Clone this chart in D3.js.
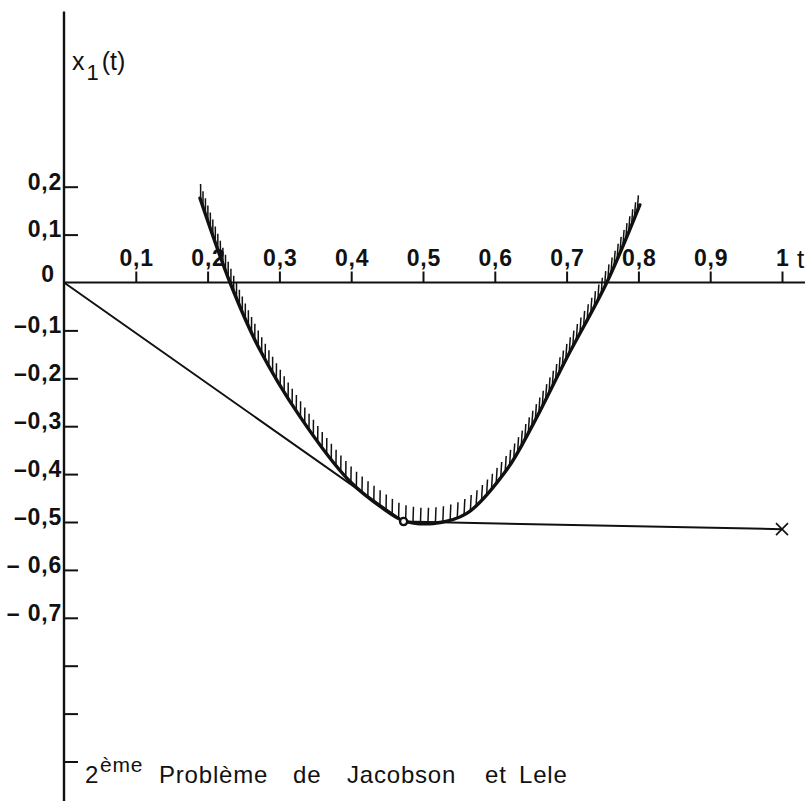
<!DOCTYPE html>
<html><head><meta charset="utf-8">
<script src="https://cdn.jsdelivr.net/npm/d3@7/dist/d3.min.js"></script>
<style>body{margin:0;background:#fff} svg{display:block}</style>
</head><body>
<script>
// ---- data ----
const xTickValues = [0.1, 0.2, 0.3, 0.4, 0.5, 0.6, 0.7, 0.8, 0.9, 1];
const xTickLabels = ["0,1", "0,2", "0,3", "0,4", "0,5", "0,6", "0,7", "0,8", "0,9", "1"];
const yTickValues = [0.2, 0.1, -0.1, -0.2, -0.3, -0.4, -0.5, -0.6, -0.7, -0.8, -0.9, -1.0];
const yTickLabels = ["0,2", "0,1", "\u20130,1", "\u20130,2", "\u20130,3", "\u20130,4", "\u20130,5", "\u2013 0,6", "\u2013 0,7", "", "", ""];
const originLabel = "0";
const xAxisTitle = "t";
const yAxisTitleMain = "x";
const yAxisTitleSub = "1";
const yAxisTitleTail = "(t)";
const captionWords = ["2", "ème", "Problème", "de", "Jacobson", "et", "Lele"];

// trajectory x1(t): straight to tangency point, then nearly flat to t = 1
const trajectoryT = [0, 0.473, 1.0];
const trajectoryX = [0, -0.499, -0.515];

// hatched constraint boundary
const boundaryT = [0.1894, 0.2312, 0.2706, 0.3287, 0.398, 0.4447, 0.4726, 0.5143, 0.561, 0.6166, 0.654, 0.700, 0.756, 0.802];
const boundaryX = [0.176, 0.0, -0.134, -0.280, -0.415, -0.472, -0.497, -0.503, -0.482, -0.391, -0.294, -0.158, 0.0, 0.162];

// ---- drawing ----
const W = 805, H = 801;
const svg = d3.select("body").append("svg").attr("width", W).attr("height", H);

const x = d3.scaleLinear().domain([0, 1]).range([64, 782]);
const y = d3.scaleLinear().domain([0, -1]).range([282.5, 761.5]);
const ink = "#111";
const tickFont = "'Liberation Sans', Arial, Helvetica, sans-serif";

// axes lines
svg.append("line").attr("x1", x(0)).attr("x2", W).attr("y1", y(0)).attr("y2", y(0))
  .attr("stroke", ink).attr("stroke-width", 2);
svg.append("line").attr("x1", x(0)).attr("x2", x(0)).attr("y1", y(0.566)).attr("y2", H)
  .attr("stroke", ink).attr("stroke-width", 2.4);

// x axis ticks + labels
const gx = svg.append("g").attr("transform", `translate(0,${y(0)})`)
  .call(d3.axisTop(x).tickValues(xTickValues).tickFormat((d, i) => xTickLabels[i]).tickSize(11).tickPadding(6));
gx.select(".domain").remove();
gx.selectAll(".tick line").attr("stroke", ink).attr("stroke-width", 2);
gx.selectAll(".tick text").attr("fill", ink).attr("dx", "0.4px")
  .style("font-family", tickFont).style("font-weight", "bold").style("font-size", "23px").style("letter-spacing", "0.8px");

// y axis ticks + labels
const gy = svg.append("g").attr("transform", `translate(${x(0)},0)`)
  .call(d3.axisLeft(y).tickValues(yTickValues).tickFormat((d, i) => yTickLabels[i]).tickSize(-14).tickPadding(2));
gy.select(".domain").remove();
gy.selectAll(".tick line").attr("stroke", ink).attr("stroke-width", 2);
gy.selectAll(".tick text").attr("fill", ink).attr("dy", "0.1em")
  .style("font-family", tickFont).style("font-weight", "bold").style("font-size", "23px").style("letter-spacing", "0.8px");

// origin label
svg.append("text").attr("x", x(0) - 10).attr("y", y(0) - 1).attr("text-anchor", "end")
  .attr("fill", ink).style("font-family", tickFont).style("font-weight", "bold").style("font-size", "23px")
  .text(originLabel);

// axis titles
svg.append("text").attr("x", 797).attr("y", y(0) - 15).attr("fill", ink)
  .style("font-family", "'Liberation Sans', Arial, sans-serif").style("font-size", "26px").text(xAxisTitle);

const yt = svg.append("text").attr("x", 72).attr("y", 70).attr("fill", ink)
  .style("font-family", "'Liberation Sans', Arial, sans-serif").style("font-size", "25px");
yt.append("tspan").text(yAxisTitleMain);
yt.append("tspan").attr("dx", 2).attr("dy", 10).style("font-size", "22px").text(yAxisTitleSub);
yt.append("tspan").attr("dx", 3).attr("dy", -10).text(yAxisTitleTail);

// caption
const cap = svg.append("text").attr("y", 783).attr("fill", ink)
  .style("font-family", "'Liberation Sans', Arial, sans-serif").style("font-size", "24px").style("letter-spacing", "0.8px");
const capX = [85, 100, 159, 293, 347, 485, 519];
captionWords.forEach((w, i) => {
  const t = cap.append("tspan").attr("x", capX[i]).text(w);
  if (i === 1) t.attr("dy", -11).style("font-size", "21px");
  if (i === 2) t.attr("dy", 11);
});

// trajectory
const trajData = trajectoryT.map((t, i) => [t, trajectoryX[i]]);
svg.append("path").datum(trajData)
  .attr("d", d3.line().x(d => x(d[0])).y(d => y(d[1])))
  .attr("fill", "none").attr("stroke", ink).attr("stroke-width", 2);

// boundary curve
const bData = boundaryT.map((t, i) => [t, boundaryX[i]]);
const bPath = svg.append("path").datum(bData)
  .attr("d", d3.line().x(d => x(d[0])).y(d => y(d[1])).curve(d3.curveCatmullRom.alpha(0.5)))
  .attr("fill", "none").attr("stroke", ink).attr("stroke-width", 3.4).attr("stroke-linecap", "round");

// hatching on the inner side
const node = bPath.node();
const total = node.getTotalLength();
const hatches = [];
for (let s = 2; s < total; s += 7.5) {
  const p = node.getPointAtLength(s);
  const a = node.getPointAtLength(Math.max(0, s - 1.5));
  const b = node.getPointAtLength(Math.min(total, s + 1.5));
  const th = Math.atan2(b.y - a.y, b.x - a.x);
  const phi = -0.03 * th + 2 * Math.PI / 180;
  const L = 16;
  hatches.push([p.x, p.y, p.x + L * Math.sin(phi), p.y - L * Math.cos(phi)]);
}
svg.append("g").selectAll("line").data(hatches).join("line")
  .attr("x1", d => d[0]).attr("y1", d => d[1]).attr("x2", d => d[2]).attr("y2", d => d[3])
  .attr("stroke", ink).attr("stroke-width", 1.5);

// markers
svg.append("circle").attr("cx", x(trajectoryT[1])).attr("cy", y(trajectoryX[1])).attr("r", 3.6)
  .attr("fill", "#fff").attr("stroke", ink).attr("stroke-width", 2.4);
const ex = x(trajectoryT[2]), ey = y(trajectoryX[2]);
svg.append("path").attr("d", `M${ex - 6},${ey - 6}L${ex + 6},${ey + 6}M${ex - 6},${ey + 6}L${ex + 6},${ey - 6}`)
  .attr("stroke", ink).attr("stroke-width", 1.6).attr("fill", "none");
</script>
</body></html>
